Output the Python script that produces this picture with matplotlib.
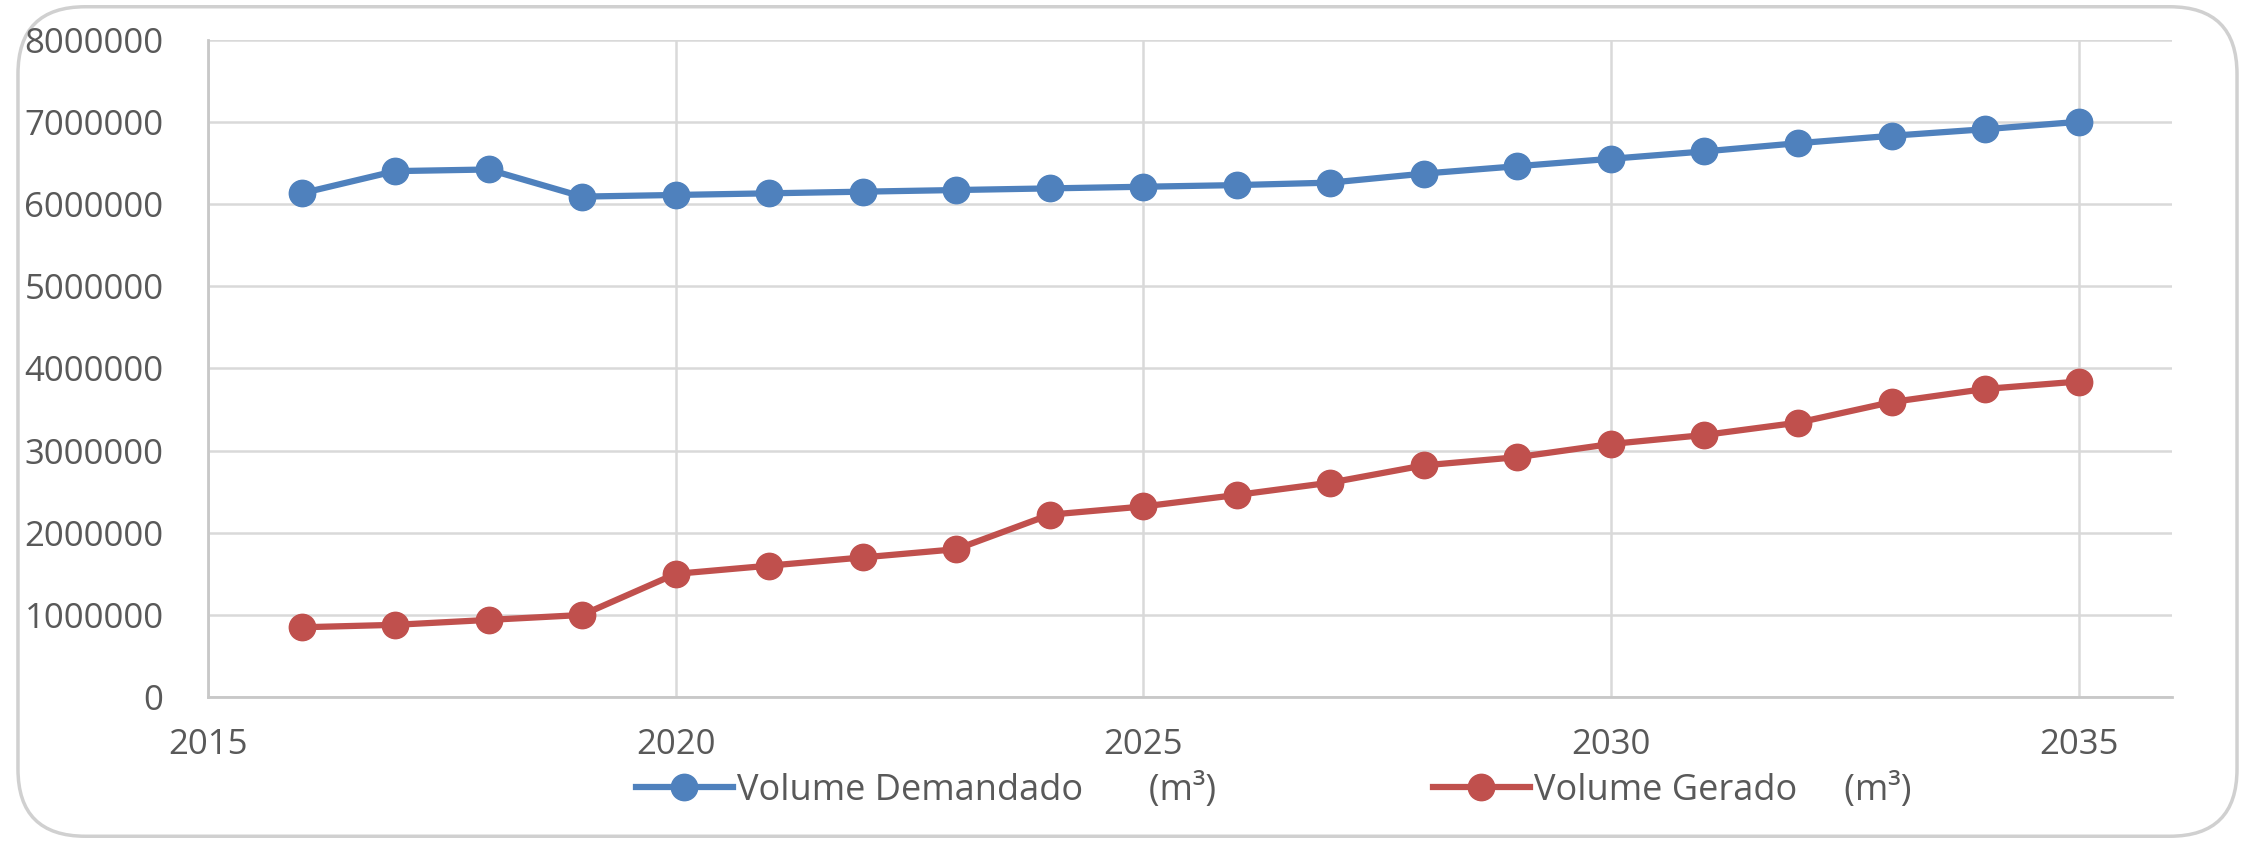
import numpy as np
import matplotlib
matplotlib.use("Agg")
from matplotlib import pyplot as plt
from matplotlib.patches import FancyBboxPatch

### DATA

anos = [2016, 2017, 2018, 2019, 2020, 2021, 2022, 2023, 2024, 2025,
        2026, 2027, 2028, 2029, 2030, 2031, 2032, 2033, 2034, 2035]

vol_demandado = [6130000, 6400000, 6420000, 6090000, 6110000, 6130000, 6150000,
                 6170000, 6190000, 6210000, 6230000, 6260000, 6370000, 6460000,
                 6550000, 6640000, 6740000, 6830000, 6910000, 7000000]

vol_gerado = [850000, 880000, 940000, 1000000, 1500000, 1600000, 1700000,
              1800000, 2220000, 2320000, 2460000, 2610000, 2820000, 2920000,
              3080000, 3190000, 3340000, 3590000, 3750000, 3840000]

label_dem = "Volume Demandado       (m³)"
label_ger = "Volume Gerado     (m³)"

x_ticks = [2015, 2020, 2025, 2030, 2035]
y_ticks = np.arange(0, 8000001, 1000000)

### PLOT

plt.rcParams['font.family'] = ['Open Sans', 'DejaVu Sans']
txt_color = "#595959"
grid_color = "#D9D9D9"

fig = plt.figure(figsize=(22.46, 8.43), dpi=100)

# rounded outer frame (no fill, so it does not hide the axes)
frame = FancyBboxPatch((0.008, 0.008), 0.988, 0.984,
                       boxstyle="round,pad=0,rounding_size=0.03",
                       transform=fig.transFigure, facecolor="none",
                       edgecolor="#D0D0D0", linewidth=2.5, mutation_aspect=2.66,
                       zorder=-1)
fig.patches.append(frame)

ax = fig.add_axes([0.0926, 0.173, 0.8745, 0.780])
ax.set_facecolor("none")

ax.plot(anos, vol_demandado, color="#4F81BD", lw=4.5, marker="o", ms=19,
        label=label_dem, zorder=3)
ax.plot(anos, vol_gerado, color="#C0504D", lw=4.5, marker="o", ms=19,
        label=label_ger, zorder=3)

ax.set_xlim(2015, 2036)
ax.set_ylim(0, 8000000)
ax.set_xticks(x_ticks)
ax.set_yticks(y_ticks)
ax.set_yticklabels([str(int(v)) for v in y_ticks])

ax.grid(True, color=grid_color, lw=1.8)
ax.set_axisbelow(True)
for s in ["top", "right"]:
    ax.spines[s].set_visible(False)
for s in ["left", "bottom"]:
    ax.spines[s].set_color("#C8C8C8")
    ax.spines[s].set_linewidth(2)

ax.tick_params(axis="both", length=0, labelsize=25, labelcolor=txt_color)
ax.tick_params(axis="y", pad=32)
ax.tick_params(axis="x", pad=22)

fig.legend(loc="center", bbox_to_anchor=(0.567, 0.062), ncol=2,
           frameon=False, fontsize=26, labelcolor=txt_color,
           handlelength=2.7, handletextpad=0.1, columnspacing=6.0,
           markerscale=1.0)

fig.savefig("out.png", dpi=100)
